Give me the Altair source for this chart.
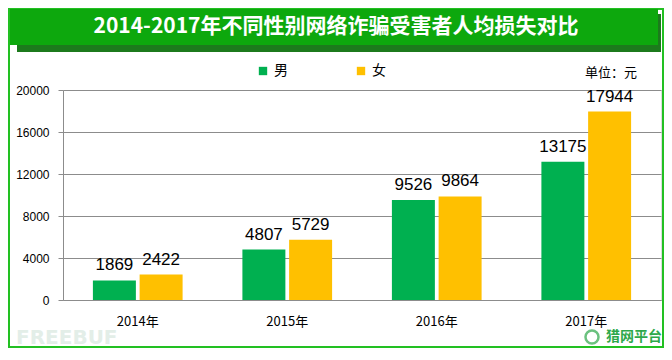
import altair as alt
import pandas as pd

years = ["2014年", "2015年", "2016年", "2017年"]
genders = ["男", "女"]
male = [1869, 4807, 9526, 13175]
female = [2422, 5729, 9864, 17944]
colors = ["#00B050", "#FFC000"]
title_text = "2014-2017年不同性别网络诈骗受害者人均损失对比"
unit_text = "单位：元"
y_ticks = [0, 4000, 8000, 12000, 16000, 20000]

rows = []
for i, y in enumerate(years):
    rows.append({"year": y, "gender": "男", "value": male[i]})
    rows.append({"year": y, "gender": "女", "value": female[i]})
df = pd.DataFrame(rows)
one = pd.DataFrame({"k": [0]})

FONT = "Noto Sans CJK SC"
W, H = 598, 210

x_enc = alt.X("year:N", sort=years, title=None,
              scale=alt.Scale(paddingInner=0.4, paddingOuter=0.2),
              axis=alt.Axis(labelAngle=0, labelFontSize=13, labelColor="#000",
                            labelFont=FONT, ticks=False, labelPadding=15,
                            domainColor="#8c8c8c", grid=False))
xo = alt.XOffset("gender:N", sort=genders,
                 scale=alt.Scale(paddingInner=0.08, paddingOuter=0))
y_enc = alt.Y("value:Q", title=None,
              scale=alt.Scale(domain=[0, 20000]),
              axis=alt.Axis(values=y_ticks, format="d", labelFontSize=12, labelColor="#000",
                            labelFont="Liberation Sans", tickColor="#8c8c8c",
                            tickSize=5, labelPadding=9, domainColor="#8c8c8c",
                            gridColor="#8c8c8c", gridWidth=1))

bars = alt.Chart(df).mark_bar().encode(
    x=x_enc, xOffset=xo, y=y_enc,
    color=alt.Color("gender:N", sort=genders,
                    scale=alt.Scale(domain=genders, range=colors),
                    legend=alt.Legend(title=None, orient="none", legendX=193, legendY=-26,
                                      direction="horizontal", symbolType="square",
                                      symbolSize=70, labelFontSize=14, labelFont=FONT,
                                      labelColor="#000", columnPadding=66,
                                      symbolStrokeWidth=0, labelOffset=4))
)

labels = alt.Chart(df).mark_text(baseline="bottom", dy=-6, fontSize=17,
                                 font="Liberation Sans", color="#000").encode(
    x=alt.X("year:N", sort=years), xOffset=alt.XOffset("gender:N", sort=genders),
    y="value:Q", text="value:Q"
)

# decorations (pixel positions relative to plot origin)
border = alt.Chart(one).mark_rect(fill=None, stroke="#22C022", strokeWidth=2).encode(
    x=alt.value(-54), x2=alt.value(600), y=alt.value(-81), y2=alt.value(257))
shadow = alt.Chart(one).mark_rect(color="#1C7A1C").encode(
    x=alt.value(-46), x2=alt.value(598), y=alt.value(-76), y2=alt.value(-38))
banner = alt.Chart(one).mark_rect(color="#0DA80D").encode(
    x=alt.value(-53), x2=alt.value(595), y=alt.value(-81), y2=alt.value(-45))
title = alt.Chart(one).mark_text(text=title_text, fontSize=21, fontWeight="bold",
                                 font=FONT, color="#fff").encode(
    x=alt.value(273), y=alt.value(-63))
unit = alt.Chart(one).mark_text(text=unit_text, fontSize=13, font=FONT,
                                color="#000", align="right").encode(
    x=alt.value(574), y=alt.value(-17))
wm = alt.Chart(one).mark_text(text="FREEBUF", fontSize=20, fontWeight="bold",
                              font="DejaVu Sans", color="#E3EEE8", align="left",
                              baseline="alphabetic").encode(
    x=alt.value(-47), y=alt.value(254))
logo = alt.Chart(one).mark_text(text="猎网平台", fontSize=14, fontWeight="bold",
                                font=FONT, color="#2DA84A", align="left").encode(
    x=alt.value(543), y=alt.value(247))
logo_c = alt.Chart(one).mark_point(shape="circle", size=170, color="#2DA84A",
                                   strokeWidth=2.5).encode(
    x=alt.value(529), y=alt.value(247))

chart = alt.layer(wm, border, shadow, banner, title, unit, bars, labels, logo_c, logo).properties(
    width=W, height=H,
    padding={"left": 55, "top": 82, "right": 3, "bottom": 48},
    autosize=alt.AutoSizeParams(type="none"),
).configure_view(stroke=None).configure(background="#ffffff")

chart.save("out.html", embed_options={"renderer": "svg", "actions": False})
